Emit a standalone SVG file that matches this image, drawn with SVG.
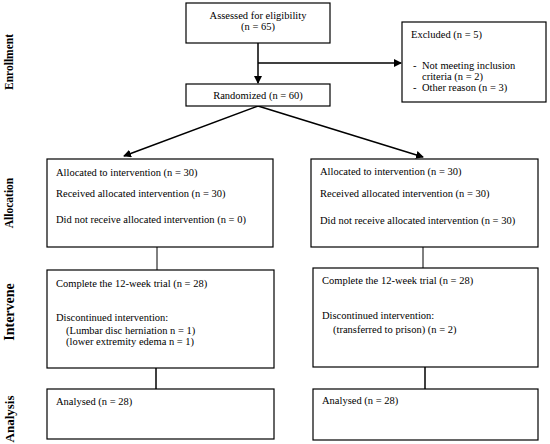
<svg xmlns="http://www.w3.org/2000/svg" width="550" height="444" viewBox="0 0 550 444">
<style>
.box{fill:#fff;stroke:#000;stroke-width:1.2}
.t{font-family:"Liberation Serif","Times New Roman",serif;font-size:10.5px;fill:#000}
.c{text-anchor:middle}
.side{font-family:"Liberation Serif","Times New Roman",serif;font-weight:bold;fill:#000;text-anchor:middle}
.ln{stroke:#000;stroke-width:1.5;fill:none}
.thin{stroke:#000;stroke-width:1;fill:none}
</style>
<defs>
<marker id="ah" markerWidth="8" markerHeight="8" refX="7" refY="4" orient="auto" markerUnits="userSpaceOnUse">
<path d="M0,0 L8,4 L0,8 Z" fill="#000"/>
</marker>
</defs>
<rect width="550" height="444" fill="#fff"/>
<g id="labels">
<text class="side" font-size="11.5" transform="translate(13,62) rotate(-90)">Enrollment</text>
<text class="side" font-size="11.5" transform="translate(13,203) rotate(-90)">Allocation</text>
<text class="side" font-size="14" transform="translate(14,312) rotate(-90)">Intervene</text>
<text class="side" font-size="13" transform="translate(14,419) rotate(-90)">Analysis</text>
</g>
<g id="connectors">
<line class="ln" x1="258" y1="43" x2="258" y2="83" marker-end="url(#ah)"/>
<line class="ln" x1="258" y1="63" x2="401" y2="63" marker-end="url(#ah)"/>
<line class="ln" x1="258" y1="106" x2="124" y2="156" marker-end="url(#ah)"/>
<line class="ln" x1="258" y1="106" x2="423" y2="157" marker-end="url(#ah)"/>
<line class="thin" x1="157" y1="247" x2="157" y2="270"/>
<line class="thin" x1="423" y1="247" x2="423" y2="268"/>
<line class="ln" x1="156" y1="368" x2="156" y2="389"/>
<line class="ln" x1="425" y1="367" x2="425" y2="389"/>
</g>
<g id="assessed">
<rect class="box" x="186" y="3" width="144" height="40"/>
<text class="t c" x="258" y="19">Assessed for eligibility</text>
<text class="t c" x="258" y="30">(n = 65)</text>
</g>
<g id="excluded">
<rect class="box" x="402" y="22" width="144" height="80"/>
<text class="t" x="411" y="38">Excluded (n = 5)</text>
<text class="t" x="413" y="69">-</text>
<text class="t" x="422" y="69">Not meeting inclusion</text>
<text class="t" x="422" y="80">criteria (n = 2)</text>
<text class="t" x="413" y="91">-</text>
<text class="t" x="422" y="91">Other reason (n = 3)</text>
</g>
<g id="randomized">
<rect class="box" x="186" y="84" width="144" height="22"/>
<text class="t c" x="258" y="99">Randomized (n = 60)</text>
</g>
<g id="alloc-left">
<rect class="box" x="47" y="159" width="226" height="88"/>
<text class="t" x="56" y="176">Allocated to intervention (n = 30)</text>
<text class="t" x="56" y="197">Received allocated intervention (n = 30)</text>
<text class="t" x="56" y="223">Did not receive allocated intervention (n = 0)</text>
</g>
<g id="alloc-right">
<rect class="box" x="311" y="159" width="227" height="88"/>
<text class="t" x="320" y="175">Allocated to intervention (n = 30)</text>
<text class="t" x="320" y="197">Received allocated intervention (n = 30)</text>
<text class="t" x="320" y="224">Did not receive allocated intervention (n = 30)</text>
</g>
<g id="intervene-left">
<rect class="box" x="47" y="270" width="227" height="98"/>
<text class="t" x="56" y="287">Complete the 12-week trial (n = 28)</text>
<text class="t" x="56" y="321">Discontinued intervention:</text>
<text class="t" x="66" y="334">(Lumbar disc herniation n = 1)</text>
<text class="t" x="66" y="345">(lower extremity edema n = 1)</text>
</g>
<g id="intervene-right">
<rect class="box" x="313" y="268" width="225" height="99"/>
<text class="t" x="322" y="284">Complete the 12-week trial (n = 28)</text>
<text class="t" x="322" y="319">Discontinued intervention:</text>
<text class="t" x="333" y="333">(transferred to prison) (n = 2)</text>
</g>
<g id="analysis-left">
<rect class="box" x="47" y="389" width="227" height="50"/>
<text class="t" x="56" y="405">Analysed (n = 28)</text>
</g>
<g id="analysis-right">
<rect class="box" x="313" y="389" width="225" height="51"/>
<text class="t" x="322" y="404">Analysed (n = 28)</text>
</g>
</svg>
